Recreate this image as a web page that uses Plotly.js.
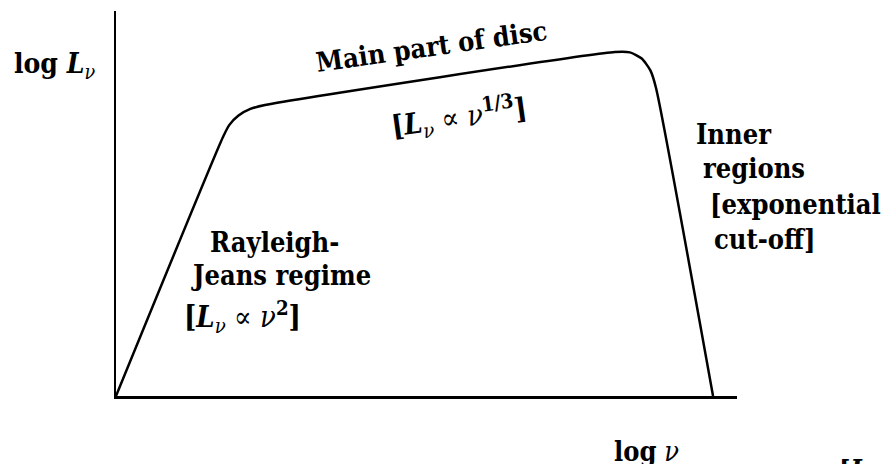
<!DOCTYPE html>
<html>
<head>
<meta charset="utf-8">
<script src="https://cdn.plot.ly/plotly-3.0.1.min.js"></script>
<style>html,body{margin:0;padding:0;background:#fff}#chart{width:886px;height:464px}</style>
</head>
<body>
<div id="chart"></div>
<script>
// Schematic disc spectrum (arbitrary log units)
const logNu = [0, 1.723, 1.826, 1.973, 2.164, 2.399, 8.035, 8.275, 8.466, 8.605, 8.696, 9.614];
const logL  = [0, 6.727, 7.042, 7.286, 7.457, 7.558, 8.935, 8.925, 8.766, 8.457, 8.0, 0];

// Label texts
const labelTexts = {
  yTitle: "<b>log <i>L</i></b><sub><i>ν</i></sub>",
  xTitle: "<b>log</b> <i>ν</i>",
  main: "<b>Main part of disc</b>",
  mainLaw: "<b>[<i>L</i></b><sub><i>ν</i></sub> ∝ <i>ν</i><sup><b>1/3</b></sup><b>]</b>",
  inner: ["<b>Inner</b>", "<b>regions</b>", "<b>[exponential</b>", "<b>cut-off]</b>"],
  rj: ["<b>Rayleigh-</b>", "<b>Jeans regime</b>"],
  rjLaw: "<b>[<i>L</i></b><sub><i>ν</i></sub> ∝ <i>ν</i><sup><b>2</b></sup><b>]</b>",
  cut: "<b>[<i>L</i></b>"
};

const W = 886, H = 464;
const M = {l: 116, r: 149, t: 11, b: 68};
const pw = W - M.l - M.r, ph = H - M.t - M.b;
function px(x){ return (x - M.l) / pw; }
function py(y){ return (H - M.b - y) / ph; }

const FONT = "'DejaVu Serif Condensed', 'DejaVu Serif', serif";
const fs = 27;
function ann(text, x, y, xa, opts, size){
  return Object.assign({
    text: text, xref: "paper", yref: "paper", x: px(x), y: py(y),
    xanchor: xa, yanchor: "middle", showarrow: false,
    font: {family: FONT, size: size || fs, color: "#000"}
  }, opts || {});
}

const annotations = [
  ann(labelTexts.yTitle, 12, 65, "left", null, 28),
  ann(labelTexts.xTitle, 612, 451, "left", null, 27),
  ann(labelTexts.main, 431, 46, "center", {textangle: -8}),
  ann(labelTexts.mainLaw, 459, 117, "center", {textangle: -8}, 29),
  ann(labelTexts.inner[0], 694, 134, "left"),
  ann(labelTexts.inner[1], 701, 168, "left"),
  ann(labelTexts.inner[2], 708, 204, "left"),
  ann(labelTexts.inner[3], 712, 239, "left"),
  ann(labelTexts.rj[0], 274, 242, "center"),
  ann(labelTexts.rj[1], 281, 275, "center"),
  ann(labelTexts.rjLaw, 182, 317, "left", null, 29),
  ann(labelTexts.cut, 837, 470, "left")
];

const trace = {
  x: logNu, y: logL, mode: "lines", type: "scatter",
  line: {color: "#000", width: 2.5, shape: "spline", smoothing: 0.6},
  hoverinfo: "none", cliponaxis: false
};

const layout = {
  width: W, height: H,
  margin: M,
  paper_bgcolor: "#fff", plot_bgcolor: "#fff",
  showlegend: false,
  xaxis: {range: [0, 10], showline: true, linecolor: "#000", linewidth: 2.5,
          showgrid: false, zeroline: false, showticklabels: false, ticks: "", fixedrange: true},
  yaxis: {range: [0, 10], showline: true, linecolor: "#000", linewidth: 2.5,
          showgrid: false, zeroline: false, showticklabels: false, ticks: "", fixedrange: true},
  annotations: annotations
};

Plotly.newPlot("chart", [trace], layout, {displayModeBar: false, staticPlot: true});
</script>
</body>
</html>
